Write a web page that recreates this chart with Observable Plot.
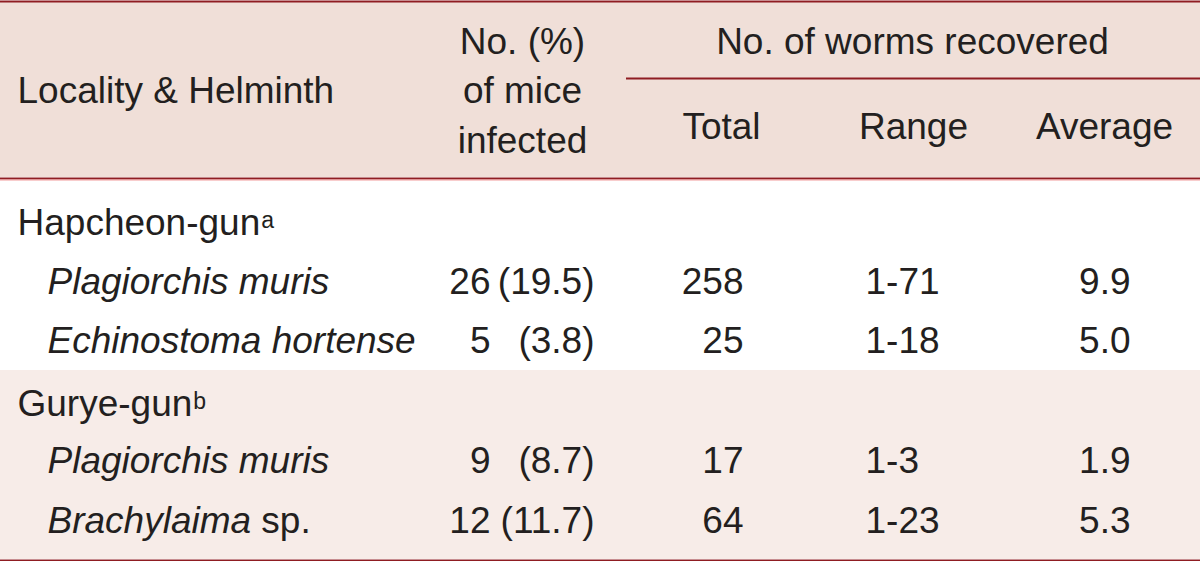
<!DOCTYPE html>
<html>
<head>
<meta charset="utf-8">
<script src="https://cdn.jsdelivr.net/npm/d3@7"></script>
<script src="https://cdn.jsdelivr.net/npm/@observablehq/plot@0.6"></script>
<style>
  html, body { margin: 0; padding: 0; background: #ffffff; }
  svg { display: block; }
</style>
</head>
<body>
<div id="chart"></div>
<script>
// ---------- data ----------
const localities = ["Hapcheon-gun", "Gurye-gun"];
const localityNotes = ["a", "b"];
const helminths = ["Plagiorchis muris", "Echinostoma hortense", "Plagiorchis muris", "Brachylaima sp."];
const helminthLocality = [0, 0, 1, 1];
const miceInfected = [26, 5, 9, 12];
const micePercent = [19.5, 3.8, 8.7, 11.7];
const wormTotal = [258, 25, 17, 64];
const wormRange = ["1-71", "1-18", "1-3", "1-23"];
const wormAverage = [9.9, 5.0, 1.9, 5.3];

const headerTexts = ["Locality & Helminth", "No. (%)", "of mice", "infected", "No. of worms recovered", "Total", "Range", "Average"];
const headerCols  = ["label", "mice", "mice", "mice", "worms", "total", "range", "average"];
const headerRows  = ["h2", "h1", "h2", "h3", "h1", "sub", "sub", "sub"];

// ---------- layout (pixel positions of columns and rows) ----------
const W = 1200, H = 561;
const colX = {label: 17, indent: 47, miceNo: 490, micePct: 594, total: 743, range: 865, average: 1130,
              hLabel: 17, hMice: 522, hWorms: 912, hTotal: 721, hRange: 913, hAverage: 1104};
const headerColX = {label: colX.hLabel, mice: colX.hMice, worms: colX.hWorms, total: colX.hTotal, range: colX.hRange, average: colX.hAverage};
const rowY = {h1: 53, h2: 102, h3: 152, sub: 138};
const bodyBaselines = [234, 293, 352, 415, 472, 532];
const lines = {top: 1, innerLine: 78, innerStart: 626, headerBottom: 178, bottom: 560, headerTop: 2, sectionTop: 370, sectionBottom: 559};

// build body rows in order: locality, then its helminths
const bodyRows = [];
localities.forEach((loc, li) => {
  bodyRows.push({kind: "locality", text: loc, note: localityNotes[li], loc: li});
  helminths.forEach((h, i) => {
    if (helminthLocality[i] === li) bodyRows.push({kind: "helminth", i, text: h, loc: li});
  });
});
bodyRows.forEach((r, k) => r.y = bodyBaselines[k]);
const locRows = bodyRows.filter(r => r.kind === "locality");
const helRows = bodyRows.filter(r => r.kind === "helminth");

const headers = headerTexts.map((t, i) => ({text: t, col: headerCols[i], row: headerRows[i]}));
const headersStart = headers.filter(d => d.col === "label");
const headersMiddle = headers.filter(d => d.col !== "label");

const FS = 37;
const INK = "#231f20";
const RED = "#8f1d22";
const PINK = "#f29b9b";

const sectionRects = [
  {x1: 0, x2: W, y1: lines.headerTop, y2: lines.headerBottom - 1, fill: "#f0dfd8"},
  {x1: 0, x2: W, y1: lines.sectionTop, y2: lines.sectionBottom, fill: "#f7ece8"}
];

const common = {fontSize: FS, fill: INK, lineAnchor: "bottom"};

const chart = Plot.plot({
  width: W,
  height: H,
  margin: 0,
  x: {domain: [0, W], range: [0, W], axis: null},
  y: {domain: [0, H], range: [0, H], axis: null},
  style: {fontFamily: "'Liberation Sans', Arial, Helvetica, sans-serif", background: "#ffffff", overflow: "visible"},
  marks: [
    Plot.rect(sectionRects, {x1: "x1", x2: "x2", y1: "y1", y2: "y2", fill: d => d.fill}),
    // rules
    Plot.ruleY([lines.top, lines.headerBottom, lines.bottom], {x1: 0, x2: W, stroke: RED, strokeWidth: 2}),
    Plot.ruleY([lines.headerBottom + 1.5], {x1: 0, x2: W, stroke: PINK, strokeWidth: 1}),
    Plot.ruleY([lines.innerLine], {x1: lines.innerStart, x2: W, stroke: RED, strokeWidth: 2}),
    // header texts
    Plot.text(headersStart, {...common, x: d => headerColX[d.col], y: d => rowY[d.row], text: "text", textAnchor: "start"}),
    Plot.text(headersMiddle, {...common, x: d => headerColX[d.col], y: d => rowY[d.row], text: "text", textAnchor: "middle"}),
    // locality labels
    Plot.text(locRows, {...common, x: () => colX.label, y: "y", text: "text", textAnchor: "start"}),
    // helminth names
    Plot.text(helRows, {...common, x: () => colX.indent, y: "y", text: "text", textAnchor: "start", fontStyle: "italic"}),
    // mice infected
    Plot.text(helRows, {...common, x: () => colX.miceNo, y: "y", text: d => String(miceInfected[d.i]), textAnchor: "end"}),
    Plot.text(helRows, {...common, x: () => colX.micePct, y: "y", text: d => `(${micePercent[d.i].toFixed(1)})`, textAnchor: "end"}),
    // worms
    Plot.text(helRows, {...common, x: () => colX.total, y: "y", text: d => String(wormTotal[d.i]), textAnchor: "end"}),
    Plot.text(helRows, {...common, x: () => colX.range, y: "y", text: d => wormRange[d.i], textAnchor: "start"}),
    Plot.text(helRows, {...common, x: () => colX.average, y: "y", text: d => wormAverage[d.i].toFixed(1), textAnchor: "end"})
  ]
});

// superscript notes and upright "sp."
const svg = d3.select(chart);
svg.selectAll("text").each(function() {
  const el = d3.select(this);
  const t = this.textContent;
  const li = localities.indexOf(t);
  if (li >= 0) {
    el.append("tspan").attr("dx", 1).attr("dy", -7).attr("font-size", 23).text(localityNotes[li]);
  } else if (t.endsWith(" sp.")) {
    el.text(null);
    el.append("tspan").text(t.slice(0, -4));
    el.append("tspan").attr("font-style", "normal").text(" sp.");
  }
});

document.getElementById("chart").appendChild(chart);
</script>
</body>
</html>
